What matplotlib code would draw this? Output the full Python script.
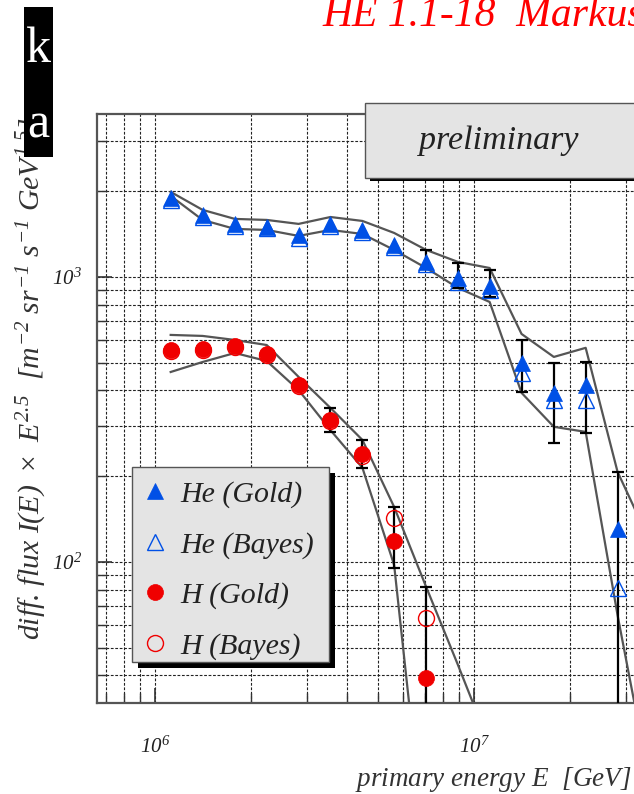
import matplotlib
matplotlib.use('Agg')
import matplotlib.pyplot as plt
import numpy as np
from matplotlib.patches import Rectangle
from matplotlib.ticker import LogLocator, FuncFormatter, NullFormatter

plt.rcParams['font.family'] = ['Liberation Serif', 'DejaVu Serif']
plt.rcParams['font.style'] = 'italic'
plt.rcParams['mathtext.fontset'] = 'custom'
plt.rcParams['mathtext.rm'] = 'Liberation Serif:italic'
plt.rcParams['mathtext.it'] = 'Liberation Serif:italic'
plt.rcParams['mathtext.default'] = 'it'

# energy bins (GeV)
energy = [1.12e6, 1.41e6, 1.78e6, 2.24e6, 2.82e6, 3.55e6, 4.47e6, 5.62e6,
          7.08e6, 8.91e6, 1.12e7, 1.41e7, 1.78e7, 2.24e7, 2.82e7]

# helium
he_gold = [1890, 1650, 1530, 1500, 1400, 1530, 1460, 1290, 1130, 990, 930,
           499, 392, 418, 131]
he_bayes = [1860, 1620, 1510, 1480, 1365, 1510, 1440, 1270, 1110, 960, 900,
            460, 370, 370, 81]
he_err_idx = [8, 9, 10, 11, 12, 13, 14]
he_err_hi = [1243, 1120, 1058, 601, 499, 503, 207]
he_err_lo = [1075, 915, 851, 395, 262, 284, 10]

# proton
h_gold = [554, 559, 573, 537, 418, 315, 239, 118.5, 39.1]
h_bayes = [550, 555, 568, 533, 414, 312, 236, 142.6, 63.6]
h_err_idx = [5, 6, 7, 8]
h_err_hi = [347, 268, 156, 81.7]
h_err_lo = [286, 214, 95, 10]

# systematic bands
he_band_E = energy + [3.55e7]
he_upper = [1988, 1719, 1598, 1585, 1535, 1623, 1572, 1427, 1244, 1129, 1075,
            631, 524, 564, 207, 119]
he_lower = [1924, 1585, 1474, 1462, 1393, 1462, 1415, 1244, 1075, 915, 817,
            392, 298, 286, 65, 17]
h_upper_E = energy[:11]
h_upper = [626, 621, 601, 577, 446, 347, 268, 156, 81.8, 43.5, 22.8]
h_lower_E = energy[:9]
h_lower = [464, 503, 541, 507, 401, 290, 214, 97.6, 9]

blue = '#0050e6'
red = '#f00000'
W, H = 634, 794

fig = plt.figure(figsize=(W / 100, H / 100), dpi=100)
ax = fig.add_axes([97 / W, 1 - 703 / H, (647.5 - 97) / W, (703 - 114) / H])
ax.set_xscale('log')
ax.set_yscale('log')
ax.set_xlim(6.58e5, 3.5e7)
ax.set_ylim(32, 3730)

ax.grid(which='both', color='#222222', linestyle=(0, (2.5, 1.5)), linewidth=0.8)
ax.set_axisbelow(True)
for s in ['left', 'bottom', 'top']:
    ax.spines[s].set_color('#555555')
    ax.spines[s].set_linewidth(1.6)

ax.xaxis.set_major_locator(LogLocator(base=10))
ax.xaxis.set_minor_locator(LogLocator(base=10, subs=np.arange(2, 10)))
ax.yaxis.set_major_locator(LogLocator(base=10))
ax.yaxis.set_minor_locator(LogLocator(base=10, subs=np.arange(2, 10)))
fmt = FuncFormatter(lambda v, p: r'$10^{%d}$' % round(np.log10(v)))
ax.xaxis.set_major_formatter(fmt)
ax.yaxis.set_major_formatter(fmt)
ax.xaxis.set_minor_formatter(NullFormatter())
ax.yaxis.set_minor_formatter(NullFormatter())
ax.tick_params(which='both', direction='in', color='#333333', top=False, right=False)
ax.tick_params(which='major', length=11, width=1.2)
ax.tick_params(which='minor', length=7, width=1.0)
ax.tick_params(axis='x', labelsize=15, pad=24, labelcolor='#222222')
ax.tick_params(axis='y', labelsize=15, pad=11, labelcolor='#222222')

# band lines
ax.plot(he_band_E, he_upper, color='#555555', lw=1.6, zorder=3)
ax.plot(he_band_E, he_lower, color='#555555', lw=1.6, zorder=3)
ax.plot(h_upper_E, h_upper, color='#555555', lw=1.6, zorder=3)
ax.plot(h_lower_E, h_lower, color='#555555', lw=1.6, zorder=3)

# error bars
he_e = [energy[i] for i in he_err_idx]
he_v = [he_gold[i] for i in he_err_idx]
ax.errorbar(he_e, he_v,
            yerr=[np.subtract(he_v, he_err_lo), np.subtract(he_err_hi, he_v)],
            fmt='none', ecolor='black', elinewidth=1.6, capsize=4, capthick=1.6, zorder=4)
h_e = [energy[i] for i in h_err_idx]
h_v = [h_gold[i] for i in h_err_idx]
ax.errorbar(h_e, h_v,
            yerr=[np.subtract(h_v, h_err_lo), np.subtract(h_err_hi, h_v)],
            fmt='none', ecolor='black', elinewidth=1.6, capsize=4, capthick=1.6, zorder=4)

# markers
l_heb, = ax.plot(energy, he_bayes, linestyle='none', marker='^', ms=12,
                 mfc='none', mec=blue, mew=1.0, zorder=5)
l_heg, = ax.plot(energy, he_gold, linestyle='none', marker='^', ms=12,
                 mfc=blue, mec=blue, mew=0.5, zorder=6)
l_hb, = ax.plot(energy[:9], h_bayes, linestyle='none', marker='o', ms=11.5,
                mfc='none', mec=red, mew=1.0, zorder=5)
l_hg, = ax.plot(energy[:9], h_gold, linestyle='none', marker='o', ms=11.5,
                mfc=red, mec=red, mew=0.5, zorder=6)

# legend box with shadow
ax.add_patch(Rectangle((138, H - 668), 197, 195, transform=None, facecolor='black',
                       edgecolor='none', zorder=7))
ax.add_patch(Rectangle((132, H - 662), 197, 195, transform=None, facecolor='#e4e4e4',
                       edgecolor='#555555', lw=1.0, zorder=8))
leg = ax.legend([l_heg, l_heb, l_hg, l_hb],
                ['He (Gold)', 'He (Bayes)', 'H (Gold)', 'H (Bayes)'],
                loc='upper left', bbox_to_anchor=(140 / W, 1 - 481 / H),
                bbox_transform=fig.transFigure, frameon=False, fontsize=21.5,
                handlelength=1.0, handletextpad=0.35, labelspacing=0.78,
                borderaxespad=0, borderpad=0.0, labelcolor='#222222')
leg.set_zorder(9)

# preliminary box
fig.add_artist(Rectangle((370 / W, 1 - 181 / H), 0.5, 76 / H, transform=fig.transFigure,
                         facecolor='black', edgecolor='none', zorder=3))
fig.add_artist(Rectangle((365 / W, 1 - 178 / H), 0.5, 75 / H, transform=fig.transFigure,
                         facecolor='#e4e4e4', edgecolor='#555555', lw=1.0, zorder=4))
fig.text(499 / W, 1 - 141 / H, 'preliminary', fontsize=24.5, ha='center', va='center',
         color='#222222', zorder=5)

# axis labels
fig.text(32 / W, 1 - 378 / H,
         r'diff. flux $I(E)\ \times\ E^{2.5}$  [$m^{-2}\ sr^{-1}\ s^{-1}\ GeV^{1.5}$]',
         rotation=90, fontsize=21.5, ha='center', va='center', color='#333333')
fig.text(632 / W, 1 - 780 / H, 'primary energy $E$  [$GeV$]', fontsize=19.5,
         ha='right', va='center', color='#333333')

# header and overlay
fig.text(322 / W, 1 - 26 / H, 'HE 1.1-18  Markus', fontsize=30, color='red',
         ha='left', va='baseline')
fig.add_artist(Rectangle((24 / W, 1 - 157 / H), 29 / W, 150 / H, transform=fig.transFigure,
                         facecolor='black', edgecolor='none', zorder=6))
fig.text(38.5 / W, 1 - 50 / H, 'k', fontsize=36, color='white', style='normal',
         ha='center', va='center', zorder=7)
fig.text(38.5 / W, 1 - 125 / H, 'a', fontsize=36, color='white', style='normal',
         ha='center', va='center', zorder=7)

fig.savefig('out.png', dpi=100)
